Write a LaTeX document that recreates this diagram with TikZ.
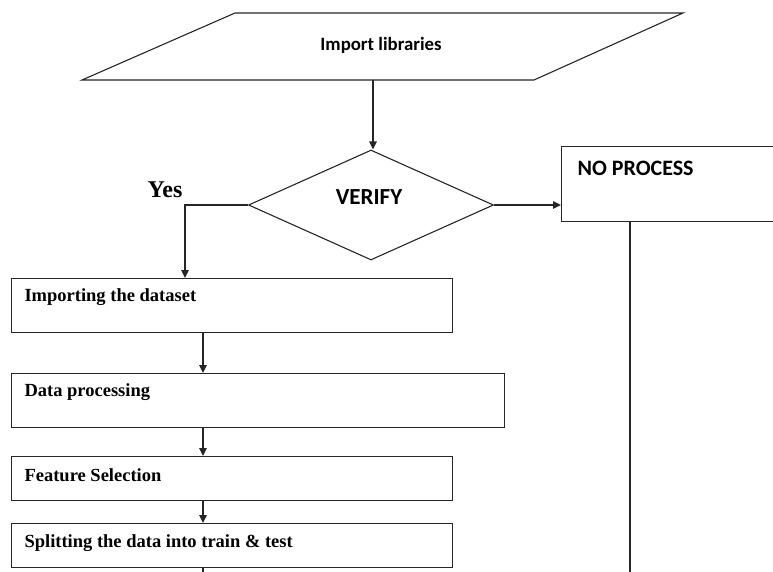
\documentclass[tikz,border=0pt]{standalone}
\usepackage{fontspec}
\setmainfont{Liberation Serif}
\newfontfamily\carlito{Carlito}
\usetikzlibrary{arrows.meta,shapes.geometric}
\begin{document}
\begin{tikzpicture}[x=1pt,y=-1pt,
  line width=1.1pt,
  flow/.style={draw=black!85},
  arr/.style={flow,-{Triangle[length=8pt,width=7.5pt]}},
  stepbox/.style={draw=black!85,rectangle,inner sep=0pt,anchor=north west},
  boxtext/.style={anchor=west,inner sep=0pt,font=\fontsize{18.5}{22}\selectfont\bfseries},
  sanstext/.style={inner sep=0pt,font=\carlito\fontsize{18.8}{22}\selectfont\bfseries}]
\useasboundingbox (0,0) rectangle (773,571);
\clip (0,0) rectangle (773,571);

% input parallelogram
\coordinate (p1) at (82,80);
\coordinate (p2) at (534,80);
\coordinate (p3) at (683,13);
\coordinate (p4) at (235,13);
\draw[flow] (p1) -- (p2) -- (p3) -- (p4) -- cycle;
\node[sanstext] (imp) at (381,45) {Import libraries};
\coordinate (impout) at (373,80);

% decision
\node[draw=black!85,diamond,inner sep=0pt,minimum width=245pt,minimum height=110pt] (ver) at (371,205) {};
\node[sanstext,font=\carlito\fontsize{23}{27}\selectfont\bfseries] (vertext) at (369,197) {VERIFY};
\node[font=\fontsize{24}{28}\selectfont\bfseries,inner sep=0pt] (yes) at (165,190) {Yes};

% right branch
\node[stepbox,minimum width=240pt,minimum height=75pt] (np) at (561,146) {};
\node[sanstext,font=\carlito\fontsize{22}{26}\selectfont\bfseries,anchor=west] (nptext) at (577,168) {NO PROCESS};
\coordinate (npend) at (630,580);

% process steps
\node[stepbox,minimum width=441pt,minimum height=54pt] (b1) at (11,278) {};
\node[boxtext] (t1) at (24,297) {Importing the dataset};
\node[stepbox,minimum width=493pt,minimum height=54pt] (b2) at (11,373) {};
\node[boxtext] (t2) at (24,392) {Data processing};
\node[stepbox,minimum width=441pt,minimum height=44pt] (b3) at (11,456) {};
\node[boxtext] (t3) at (24,475) {Feature Selection};
\node[stepbox,minimum width=441pt,minimum height=44pt] (b4) at (11,523) {};
\node[boxtext] (t4) at (24,543) {Splitting the data into train \& test};
\coordinate (b4end) at (203,580);

% connectors
\draw[arr] (impout) -- (ver.north -| impout);
\draw[arr] (ver.east) -- (ver.east -| np.west);
\draw[flow] (np.south -| npend) -- (npend);
\draw[arr] (ver.west) -- (ver.west -| 185,0) -- (b1.north -| 185,0);
\draw[arr] (b1.south -| b4end) -- (b2.north -| b4end);
\draw[arr] (b2.south -| b4end) -- (b3.north -| b4end);
\draw[arr] (b3.south -| b4end) -- (b4.north -| b4end);
\draw[flow] (b4.south -| b4end) -- (b4end);
\end{tikzpicture}
\end{document}
